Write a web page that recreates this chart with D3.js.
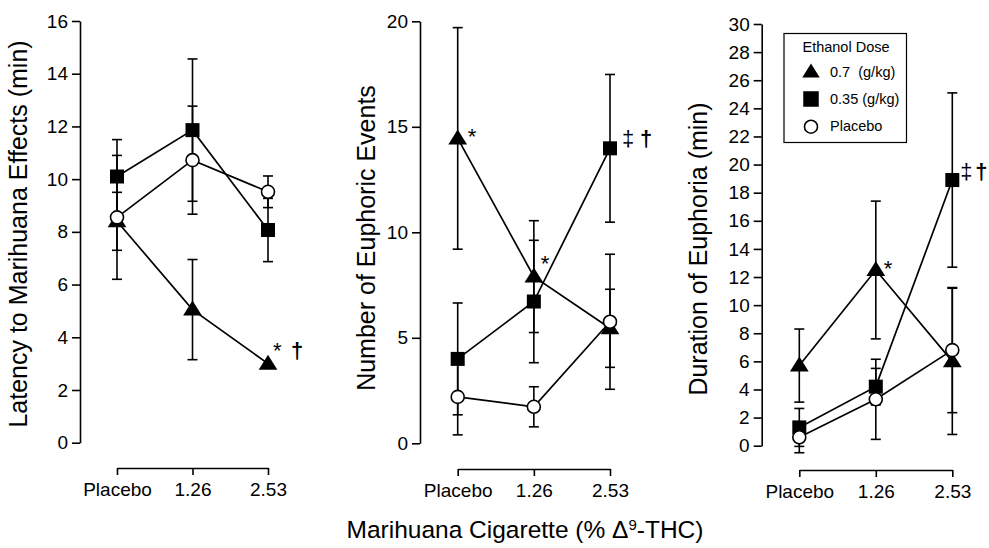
<!DOCTYPE html>
<html>
<head>
<meta charset="utf-8">
<script src="https://cdn.jsdelivr.net/npm/d3@7"></script>
<style>
  body { margin: 0; background: #fff; }
  svg { display: block; font-family: "Liberation Sans", Arial, Helvetica, sans-serif; }
</style>
</head>
<body>
<script>
// marihuana cigarette doses (x categories)
var doses = ["Placebo", "1.26", "2.53"];
var legendLabels = ["0.7  (g/kg)", "0.35 (g/kg)", "Placebo"];

// latency to marihuana effects (min), mean and SE
var latTri = [8.4, 5.05, 3.0];
var latTriSe = [1.1, 1.9, 0];
var latSq = [10.1, 11.86, 8.07];
var latSqSe = [1.4, 2.7, 1.2];
var latCirc = [8.55, 10.72, 9.52];
var latCircSe = [2.35, 2.05, 0.6];
var latTicks = [0, 2, 4, 6, 8, 10, 12, 14, 16];

// number of euphoric events
var evTri = [14.45, 7.9, 5.45];
var evTriSe = [5.25, 2.65, 1.85];
var evSq = [4.0, 6.72, 13.98];
var evSqSe = [2.65, 2.9, 3.5];
var evCirc = [2.2, 1.73, 5.76];
var evCircSe = [1.8, 0.95, 3.2];
var evTicks = [0, 5, 10, 15, 20];

// duration of euphoria (min)
var durTri = [5.7, 12.5, 6.0];
var durTriSe = [2.6, 4.9, 5.2];
var durSq = [1.3, 4.2, 18.9];
var durSqSe = [1.35, 1.3, 6.2];
var durCirc = [0.6, 3.3, 6.8];
var durCircSe = [1.1, 2.85, 4.45];
var durTicks = [0, 2, 4, 6, 8, 10, 12, 14, 16, 18, 20, 22, 24, 26, 28, 30];

// significance marks: series (0 tri, 1 sq), dose index, text
var latNotes = [{s: 0, d: 2, marks: ["*", "†"]}];
var evNotes = [{s: 0, d: 0, marks: ["*"]}, {s: 0, d: 1, marks: ["*"]}, {s: 1, d: 2, marks: ["‡", "†"]}];
var durNotes = [{s: 0, d: 1, marks: ["*"]}, {s: 1, d: 2, marks: ["‡", "†"]}];

var W = 989, H = 548;
var svg = d3.select('body').append('svg').attr('width', W).attr('height', H);

var panels = [
  {title: "Latency to Marihuana Effects (min)", ax: 80, x0: 117, x1: 268, yTop: 21, yBot: 442.7, max: 16, ticks: latTicks, xAxisY: 468,
   tx: 27, ty: 234, series: [[latTri, latTriSe], [latSq, latSqSe], [latCirc, latCircSe]], notes: latNotes,
   noteOff: [[5, -6, 23]]},
  {title: "Number of Euphoric Events", ax: 420, x0: 457.7, x1: 610, yTop: 21.3, yBot: 443.3, max: 20, ticks: evTicks, xAxisY: 469,
   tx: 375, ty: 238, series: [[evTri, evTriSe], [evSq, evSqSe], [evCirc, evCircSe]], notes: evNotes,
   noteOff: [[10, 6, 0], [7, -6, 0], [12, -2, 30]]},
  {title: "Duration of Euphoria (min)", ax: 761.7, x0: 799.3, x1: 952.3, yTop: 24, yBot: 445.7, max: 30, ticks: durTicks, xAxisY: 470,
   tx: 707, ty: 249, series: [[durTri, durTriSe], [durSq, durSqSe], [durCirc, durCircSe]], notes: durNotes,
   noteOff: [[8, 6, 0], [8, -1, 23]]}
];

function drawMarker(sel, kind, size) {
  if (kind == 0) {
    var w = size * 1.25, h = size;
    sel.append('path').attr('d', 'M0,' + (-h * 0.6) + 'L' + (w / 2) + ',' + (h * 0.4) + 'L' + (-w / 2) + ',' + (h * 0.4) + 'Z')
      .attr('fill', '#000');
  } else if (kind == 1) {
    sel.append('rect').attr('x', -size / 2).attr('y', -size / 2).attr('width', size).attr('height', size).attr('fill', '#000');
  } else {
    sel.append('circle').attr('r', size / 2 - 0.5).attr('fill', '#fff').attr('stroke', '#000').attr('stroke-width', 1.6);
  }
}

panels.forEach(function(p) {
  var x = d3.scalePoint().domain(doses).range([p.x0, p.x1]);
  var y = d3.scaleLinear().domain([0, p.max]).range([p.yBot, p.yTop]);
  var g = svg.append('g');

  var yAx = g.append('g').attr('transform', 'translate(' + p.ax + ',0)')
    .call(d3.axisLeft(y).tickValues(p.ticks).tickSize(8).tickSizeOuter(0).tickPadding(4).tickFormat(d3.format('d')));
  var xAx = g.append('g').attr('transform', 'translate(0,' + p.xAxisY + ')')
    .call(d3.axisBottom(x).tickSize(7).tickSizeOuter(0).tickPadding(8));
  [yAx, xAx].forEach(function(a) {
    a.attr('font-size', 19).attr('font-family', null);
    a.selectAll('path, line').attr('stroke-width', 1.6);
  });

  g.append('text')
    .attr('transform', 'translate(' + p.tx + ',' + p.ty + ') rotate(-90)')
    .attr('text-anchor', 'middle').attr('font-size', 25).text(p.title);

  var line = d3.line().x(function(d, i) { return x(doses[i]); }).y(function(d) { return y(d); });
  p.series.forEach(function(s) {
    g.append('path').attr('d', line(s[0])).attr('fill', 'none').attr('stroke', '#000').attr('stroke-width', 1.7);
  });

  p.series.forEach(function(s) {
    s[0].forEach(function(v, i) {
      var se = s[1][i];
      if (!se) return;
      var cx = x(doses[i]), hi = y(v + se), lo = y(v - se);
      g.append('line').attr('x1', cx).attr('x2', cx).attr('y1', hi).attr('y2', lo).attr('stroke', '#000').attr('stroke-width', 1.6);
      [hi, lo].forEach(function(yy) {
        g.append('line').attr('x1', cx - 5).attr('x2', cx + 5).attr('y1', yy).attr('y2', yy).attr('stroke', '#000').attr('stroke-width', 1.6);
      });
    });
  });

  // squares, triangles, then open circles on top
  [1, 0, 2].forEach(function(k) {
    p.series[k][0].forEach(function(v, i) {
      var m = g.append('g').attr('transform', 'translate(' + x(doses[i]) + ',' + y(v) + ')');
      drawMarker(m, k, k == 0 ? 15 : 14);
    });
  });

  p.notes.forEach(function(n, j) {
    var off = p.noteOff[j];
    var cx = x(doses[n.d]), cy = y(p.series[n.s][0][n.d]);
    var t = g.append('text').attr('font-size', 22);
    t.append('tspan').attr('x', cx + off[0]).attr('y', cy + off[1]).text(n.marks[0]);
    if (n.marks[1]) {
      t.append('tspan').attr('x', cx + off[2]).attr('font-weight', 'bold').text(n.marks[1]);
    }
  });
});

// legend
var lg = svg.append('g');
lg.append('rect').attr('x', 784).attr('y', 33.5).attr('width', 122.5).attr('height', 109)
  .attr('fill', '#fff').attr('stroke', '#000').attr('stroke-width', 1.2);
lg.append('text').attr('x', 846).attr('y', 52).attr('text-anchor', 'middle').attr('font-size', 14.5).text('Ethanol Dose');
var legY = [72, 99, 126.7];
var legBase = [77, 104, 131];
legendLabels.forEach(function(l, i) {
  var m = lg.append('g').attr('transform', 'translate(811,' + legY[i] + ')');
  drawMarker(m, i, i == 0 ? 14 : (i == 1 ? 15.5 : 14));
  lg.append('text').attr('x', 830).attr('y', legBase[i]).attr('font-size', 14.5)
    .style('white-space', 'pre').text(l);
});

// shared x title
var xt = svg.append('text').attr('x', 525).attr('y', 538).attr('text-anchor', 'middle').attr('font-size', 24.5);
xt.append('tspan').text('Marihuana Cigarette (% Δ');
xt.append('tspan').attr('font-size', 15).attr('dy', -8).text('9');
xt.append('tspan').attr('dy', 8).text('-THC)');
</script>
</body>
</html>
